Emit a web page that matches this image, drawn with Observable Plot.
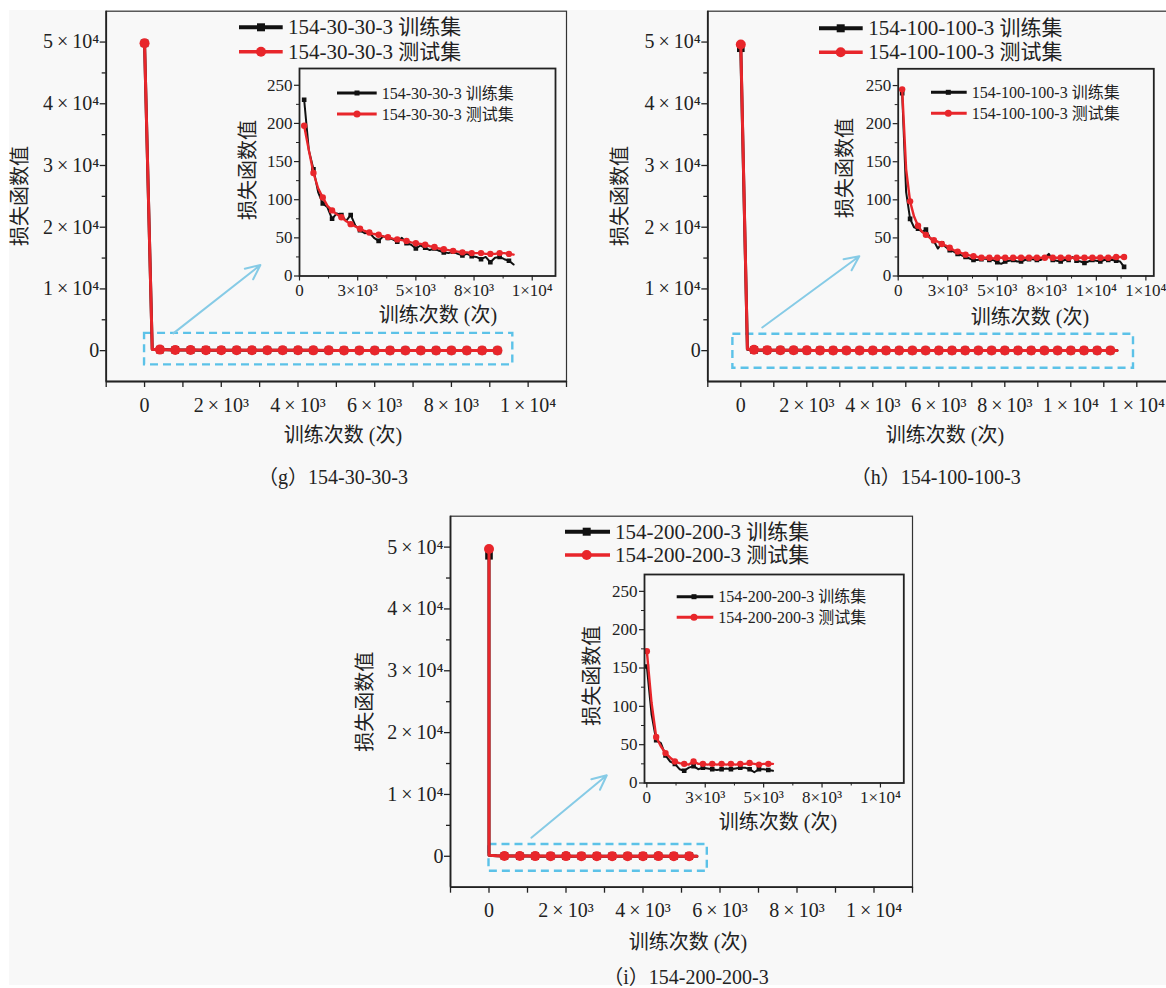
<!DOCTYPE html>
<html><head><meta charset="utf-8">
<script src="https://cdn.jsdelivr.net/npm/d3@7"></script>
<script src="https://cdn.jsdelivr.net/npm/@observablehq/plot@0.6"></script>
<style>
html,body{margin:0;padding:0;background:#fff;}
#page{position:relative;width:1166px;height:988px;overflow:hidden;background:#fff;}
#bg{position:absolute;left:9px;top:10px;width:1157px;height:975px;background:#f8f8f8;}
</style></head><body><div id="page"><div id="bg"></div></div>
<script>
// ---------- text content ----------
const models = ["154-30-30-3", "154-100-100-3", "154-200-200-3"];
const setNames = ["训练集", "测试集"];
const captions = ["（g）154-30-30-3", "（h）154-100-100-3", "（i）154-200-200-3"];
const xTitle = "训练次数 (次)";
const yTitle = "损失函数值";

// ---------- data (iterations, loss) ----------
// value at iteration 0 : [train, test]
const startG = [49800, 49800];
const startH = [49000, 49600];
const startI = [48600, 49700];

const iterG = [200,400,600,800,1000,1200,1400,1600,1800,2000,2200,2400,2600,2800,3000,3200,3400,3600,3800,4000,4200,4400,4600,4800,5000,5200,5400,5600,5800,6000,6200,6400,6600,6800,7000,7200,7400,7600,7800,8000,8200,8400,8600,8800,9000,9200];
const trainG = [231,165,140,110,95,90,75,82,80,72,80,66,60,56,57,50,46,52,50,48,45,50,43,41,36,40,37,34,36,33,31,30,32,29,27,29,26,25,22,25,18,24,25,22,20,15];
const testG  = [197,165,135,115,103,92,86,81,77,72,68,65,62,59,57,55,54,52,51,49,48,47,46,44,43,42,41,39,38,36,35,34,33,32,31,31,30,30,30,29,29,29,30,30,29,28];

const iterH = [200,400,600,800,1000,1200,1400,1600,1800,2000,2200,2400,2600,2800,3000,3200,3400,3600,3800,4000,4200,4400,4600,4800,5000,5200,5400,5600,5800,6000,6200,6400,6600,6800,7000,7200,7400,7600,7800,8000,8200,8400,8600,8800,9000,9200,9400,9600,9800,10000,10200,10400,10600,10800,11000,11200,11400];
const trainH = [240,110,75,64,62,58,61,50,46,36,43,38,34,32,29,27,25,23,21,21,22,23,21,21,18,16,19,20,21,19,19,21,22,22,21,21,24,29,21,20,19,21,21,25,20,19,17,19,21,20,19,21,21,21,20,19,12];
const testH  = [245,140,98,78,66,58,54,50,47,45,42,40,37,34,32,30,28,27,26,25,24,24,24,23,24,24,24,23,24,24,24,24,24,24,24,24,24,25,24,24,24,24,24,24,24,24,24,24,24,24,24,24,24,24,25,25,25];

const iterI = [0,200,400,600,800,1000,1200,1400,1600,1800,2000,2200,2400,2600,2800,3000,3200,3400,3600,3800,4000,4200,4400,4600,4800,5000,5200,5400];
const trainI = [152,90,56,52,36,28,25,18,16,20,22,18,20,19,18,17,18,19,18,19,20,20,18,14,18,18,17,16];
const testI  = [172,105,60,48,39,33,28,26,25,24,28,25,25,24,25,24,25,24,25,24,25,25,26,25,24,25,25,25];

// ---------- ticks ----------
const mainYDomain = [-5000, 55000];
const mainYTicks = [0,10000,20000,30000,40000,50000];
const mainYTickLabels = ["0","1×10⁴","2×10⁴","3×10⁴","4×10⁴","5×10⁴"];
const mainYMinor = [5000,15000,25000,35000,45000];
const mainXTicks = [0,2000,4000,6000,8000,10000,12000];
const mainXTickLabels = ["0","2×10³","4×10³","6×10³","8×10³","1×10⁴","1×10⁴"];
const mainXMinor = [-1000,1000,3000,5000,7000,9000,11000];
const insetYDomain = [0, 272];
const insetYTicks = [0,50,100,150,200,250];
const insetYMinor = [25,75,125,175,225];
const insetXTicks = [0,2500,5000,7500,10000,12500];
const insetXTickLabels = ["0","3×10³","5×10³","8×10³","1×10⁴","1×10⁴"];
const insetXMinor = [1250,3750,6250,8750,11250];

// ---------- zoom annotations (data coordinates of main charts) ----------
const zoomBoxes = [
  {x1: 0, x2: 9600, y1: -2300, y2: 2800},
  {x1: -240, x2: 11900, y1: -2850, y2: 2650},
  {x1: 0, x2: 5670, y1: -2430, y2: 1900}
];
const zoomArrows = [
  {x1: 750, y1: 2800, x2: 3020, y2: 13870},
  {x1: 650, y1: 3750, x2: 3590, y2: 15300},
  {x1: 1100, y1: 3000, x2: 3060, y2: 13100}
];

const RED = "#e8262b", BLACK = "#111";
const FONT = "'Liberation Serif', 'Times New Roman', 'Noto Sans CJK SC', serif";
const page = document.getElementById("page");

const spaced = s => s.replace("×", "\u2009×\u2009");
const inDom = (arr, dom) => arr.filter(v => v >= dom[0] && v <= dom[1]);
const fmtFrom = (ticks, labels, f) => v => f(labels[ticks.indexOf(v)]);

function place(svg, left, top) {
  svg.style.position = "absolute";
  svg.style.left = left + "px";
  svg.style.top = top + "px";
  page.appendChild(svg);
}

function mainChart(p) {
  const rows = [{x: 0, train: p.start[0], test: p.start[1]}]
    .concat(p.iter.map((x, i) => ({x, train: p.train[i], test: p.test[i]})));
  const marked = rows.filter((d, i) => i === 0 || (d.x > 0 && d.x % 400 === 0));
  const xT = inDom(mainXTicks, p.xDomain);
  const svg = Plot.plot({
    width: p.w, height: p.h,
    marginLeft: p.ml, marginRight: p.mr, marginTop: p.mt, marginBottom: p.mb,
    x: {domain: p.xDomain, label: null},
    y: {domain: mainYDomain, label: null},
    style: {background: "transparent", fontFamily: FONT, fontSize: "20px", color: "#222", overflow: "visible"},
    marks: [
      Plot.frame({stroke: "#333", strokeWidth: 1.2}),
      Plot.ruleX([p.xDomain[0]], {stroke: "#222", strokeWidth: 1.8}),
      Plot.ruleY([mainYDomain[0]], {stroke: "#222", strokeWidth: 1.8}),
      Plot.axisY({ticks: mainYMinor, tickSize: 4, tickFormat: () => "", label: null, strokeWidth: 1.3}),
      Plot.axisY({ticks: mainYTicks, tickSize: 6, tickPadding: 1, tickFormat: fmtFrom(mainYTicks, mainYTickLabels, spaced), label: null, strokeWidth: 1.3}),
      Plot.axisX({ticks: inDom(mainXMinor, p.xDomain), tickSize: 6, tickFormat: () => "", label: null, strokeWidth: 1.3}),
      Plot.axisX({ticks: xT, tickSize: 6, tickPadding: 10, tickFormat: fmtFrom(mainXTicks, mainXTickLabels, spaced), label: null, strokeWidth: 1.3}),
      Plot.rect([p.box], {x1: "x1", x2: "x2", y1: "y1", y2: "y2", fill: "none", stroke: "#5cc2e8", strokeWidth: 2.4, strokeDasharray: "8,5"}),
      Plot.arrow([p.arrow], {x1: "x1", y1: "y1", x2: "x2", y2: "y2", stroke: "#86cbe6", strokeWidth: 2, headLength: 12, headAngle: 50}),
      Plot.line(rows, {x: "x", y: "train", stroke: BLACK, strokeWidth: 3}),
      Plot.dot(marked, {x: "x", y: "train", symbol: "square", fill: BLACK, r: 4.3}),
      Plot.line(rows, {x: "x", y: "test", stroke: RED, strokeWidth: 3}),
      Plot.dot(marked, {x: "x", y: "test", fill: RED, r: 5})
    ]
  });
  place(svg, p.left, p.top);
}

function insetChart(p) {
  const rows = p.iter.map((x, i) => ({x, train: p.train[i], test: p.test[i]}));
  const marked = rows.filter((d, i) => i % 2 === 0);
  const xT = inDom(insetXTicks, p.xDomain);
  const svg = Plot.plot({
    width: p.w, height: p.h,
    marginLeft: p.ml, marginRight: p.mr, marginTop: p.mt, marginBottom: p.mb,
    x: {domain: p.xDomain, label: null},
    y: {domain: insetYDomain, label: null},
    style: {background: "transparent", fontFamily: FONT, fontSize: "17px", color: "#222", overflow: "visible"},
    marks: [
      Plot.axisY({ticks: insetYMinor, tickSize: 3, tickFormat: () => "", label: null}),
      Plot.axisY({ticks: insetYTicks, tickSize: 5, tickPadding: 2, tickFormat: v => String(v), label: null, strokeWidth: 1.2}),
      Plot.axisX({ticks: inDom(insetXMinor, p.xDomain), tickSize: 3, tickFormat: () => "", label: null}),
      Plot.axisX({ticks: xT, tickSize: 5, tickPadding: 3, tickFormat: fmtFrom(insetXTicks, insetXTickLabels, s => s), label: null, strokeWidth: 1.2}),
      Plot.line(rows, {x: "x", y: "train", stroke: BLACK, strokeWidth: 2, clip: true}),
      Plot.dot(marked, {x: "x", y: "train", symbol: "square", fill: BLACK, r: 2.6, clip: true}),
      Plot.line(rows, {x: "x", y: "test", stroke: RED, strokeWidth: 2.4, clip: true}),
      Plot.dot(marked, {x: "x", y: "test", fill: RED, r: 3.2, clip: true}),
      Plot.frame({stroke: "#222", strokeWidth: 1.8})
    ]
  });
  place(svg, p.left, p.top);
}

// ---------- main charts ----------
mainChart({left: 0, top: 0, w: 580, h: 430, ml: 105.7, mr: 14, mt: 10.7, mb: 49,
  xDomain: [-1000, 11000], iter: iterG, train: trainG, test: testG, start: startG,
  box: zoomBoxes[0], arrow: zoomArrows[0]});
mainChart({left: 600, top: 0, w: 580, h: 430, ml: 107.3, mr: 10.7, mt: 10.7, mb: 49,
  xDomain: [-1000, 13000], iter: iterH, train: trainH, test: testH, start: startH,
  box: zoomBoxes[1], arrow: zoomArrows[1]});
mainChart({left: 340, top: 505, w: 580, h: 430, ml: 110, mr: 8, mt: 10.7, mb: 48.3,
  xDomain: [-1000, 11000], iter: iterI, train: trainI, test: testI, start: startI,
  box: zoomBoxes[2], arrow: zoomArrows[2]});

// ---------- insets ----------
insetChart({left: 230, top: 55, w: 340, h: 260, ml: 69, mr: 15, mt: 13, mb: 39.5,
  xDomain: [0, 11000], iter: iterG, train: trainG, test: testG});
insetChart({left: 830, top: 55, w: 336, h: 260, ml: 67.7, mr: 12.7, mt: 13.3, mb: 39.5,
  xDomain: [0, 12900], iter: iterH, train: trainH, test: testH});
insetChart({left: 575, top: 560, w: 340, h: 260, ml: 69, mr: 11.7, mt: 14, mb: 37.5,
  xDomain: [-100, 11000], iter: iterI, train: trainI, test: testI});

// ---------- overlay: titles, legends, captions ----------
const ov = d3.select(page).append("svg")
  .attr("width", 1166).attr("height", 988)
  .style("position", "absolute").style("left", "0px").style("top", "0px")
  .style("font-family", FONT).style("fill", "#222");

function label(x, y, t, size, rotate) {
  const el = ov.append("text").attr("x", x).attr("y", y)
    .attr("text-anchor", "middle").attr("dominant-baseline", "central")
    .attr("font-size", size).text(t);
  if (rotate) el.attr("transform", `rotate(-90,${x},${y})`);
}

function legend(L, model, big) {
  const items = [
    {y: L.y1, color: BLACK, sym: "square", text: model + " " + setNames[0], lw: big ? 4 : 3},
    {y: L.y2, color: RED, sym: "circle", text: model + " " + setNames[1], lw: big ? 3.5 : 3}
  ];
  items.forEach(it => {
    ov.append("line").attr("x1", L.x1).attr("x2", L.x2).attr("y1", it.y).attr("y2", it.y)
      .attr("stroke", it.color).attr("stroke-width", it.lw);
    if (it.sym === "square") {
      const s = big ? 8 : 5;
      ov.append("rect").attr("x", L.m - s / 2).attr("y", it.y - s / 2).attr("width", s).attr("height", s).attr("fill", it.color);
    } else {
      ov.append("circle").attr("cx", L.m).attr("cy", it.y).attr("r", big ? 5 : 3.5).attr("fill", it.color);
    }
    ov.append("text").attr("x", L.tx).attr("y", it.y).attr("dominant-baseline", "central")
      .attr("font-size", big ? 21 : 16).text(it.text);
  });
}

// main legends
legend({x1: 239, x2: 282.7, m: 261, tx: 288, y1: 27.3, y2: 51.7}, models[0], true);
legend({x1: 819, x2: 862.7, m: 840.7, tx: 868.3, y1: 28.3, y2: 52.3}, models[1], true);
legend({x1: 565, x2: 610, m: 586.7, tx: 615, y1: 531.7, y2: 555}, models[2], true);
// inset legends
legend({x1: 337, x2: 376.7, m: 357, tx: 381.7, y1: 93, y2: 114}, models[0], false);
legend({x1: 931, x2: 966.7, m: 948.3, tx: 971.7, y1: 92.3, y2: 113.3}, models[1], false);
legend({x1: 676.7, x2: 713.3, m: 694, tx: 718.3, y1: 596.7, y2: 617.3}, models[2], false);

// axis titles
label(343, 435, xTitle, 20); label(945, 435, xTitle, 20); label(688, 941.7, xTitle, 20);
label(20, 196, yTitle, 20, true); label(620, 196, yTitle, 20, true); label(365, 701.7, yTitle, 20, true);
label(438, 315, xTitle, 20); label(1030, 316.7, xTitle, 20); label(778, 821.7, xTitle, 20);
label(248, 170, yTitle, 20, true); label(845, 168, yTitle, 20, true); label(592, 675.7, yTitle, 20, true);
// captions
label(333, 477, captions[0], 20); label(935.7, 476.7, captions[1], 20); label(686, 977, captions[2], 20);
</script></body></html>
